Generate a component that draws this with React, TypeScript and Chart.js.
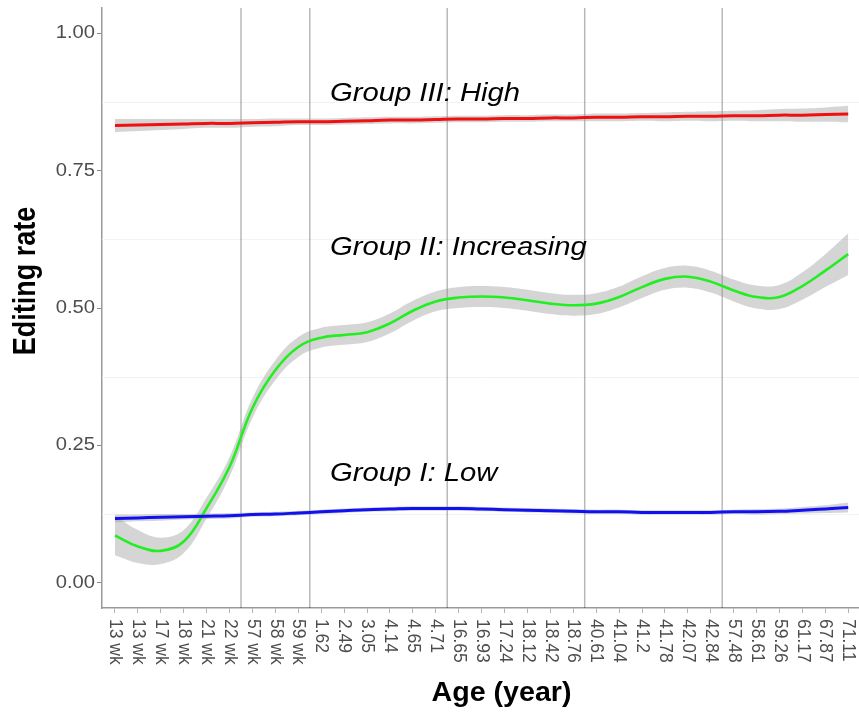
import React, { useEffect, useRef } from "react";
import { Chart, registerables } from "chart.js";

Chart.register(...registerables);

// ---- data ----
const ageLabels = [
  "13 wk", "13 wk", "17 wk", "18 wk", "21 wk", "22 wk", "57 wk", "58 wk", "59 wk",
  "1.62", "2.49", "3.05", "4.14", "4.65", "4.71",
  "16.65", "16.93", "17.24", "18.12", "18.42", "18.76",
  "40.61", "41.04", "41.2", "41.78", "42.07", "42.84",
  "57.48", "58.61", "59.26", "61.17", "67.87", "71.11",
];

const groupHigh = [
  0.832, 0.833, 0.834, 0.835, 0.836, 0.836, 0.837, 0.838, 0.839, 0.839, 0.840,
  0.841, 0.842, 0.842, 0.843, 0.844, 0.844, 0.845, 0.845, 0.846, 0.846, 0.847,
  0.847, 0.848, 0.848, 0.849, 0.849, 0.850, 0.850, 0.851, 0.851, 0.852, 0.853,
];
const groupHighSe = [
  0.012, 0.011, 0.010, 0.009, 0.008, 0.008, 0.007, 0.007, 0.006, 0.006, 0.006,
  0.006, 0.006, 0.006, 0.006, 0.006, 0.006, 0.006, 0.006, 0.006, 0.006, 0.007,
  0.007, 0.007, 0.008, 0.008, 0.009, 0.009, 0.010, 0.011, 0.012, 0.013, 0.015,
];

const groupIncreasing = [
  0.086, 0.066, 0.058, 0.075, 0.136, 0.211, 0.318, 0.387, 0.429, 0.446, 0.451,
  0.456, 0.472, 0.495, 0.512, 0.519, 0.521, 0.519, 0.514, 0.508, 0.505, 0.508,
  0.52, 0.538, 0.553, 0.557, 0.548, 0.532, 0.52, 0.52, 0.54, 0.568, 0.598,
];
const groupIncreasingSe = [
  0.036, 0.030, 0.024, 0.021, 0.019, 0.018, 0.018, 0.018, 0.018, 0.018, 0.018,
  0.018, 0.018, 0.018, 0.018, 0.019, 0.019, 0.019, 0.019, 0.019, 0.019, 0.019,
  0.019, 0.020, 0.020, 0.020, 0.020, 0.020, 0.021, 0.022, 0.025, 0.030, 0.038,
];

const groupLow = [
  0.117, 0.118, 0.119, 0.120, 0.121, 0.122, 0.124, 0.125, 0.127, 0.129, 0.131,
  0.133, 0.134, 0.135, 0.135, 0.135, 0.134, 0.133, 0.132, 0.131, 0.130, 0.129,
  0.129, 0.128, 0.128, 0.128, 0.128, 0.129, 0.129, 0.130, 0.132, 0.134, 0.137,
];
const groupLowSe = [
  0.007, 0.006, 0.006, 0.005, 0.005, 0.005, 0.004, 0.004, 0.004, 0.004, 0.004,
  0.004, 0.004, 0.004, 0.004, 0.004, 0.004, 0.004, 0.004, 0.004, 0.004, 0.004,
  0.004, 0.004, 0.004, 0.004, 0.004, 0.004, 0.005, 0.005, 0.006, 0.007, 0.009,
];

const yTickValues = [0, 0.25, 0.5, 0.75, 1];
const yTickLabels = ["0.00", "0.25", "0.50", "0.75", "1.00"];
const yMinorValues = [0.125, 0.375, 0.625, 0.875];
const ageBoundaries = [5.5, 8.5, 14.5, 20.5, 26.5];

const groupNames = ["Group III: High", "Group II: Increasing", "Group I: Low"];
const groupNameX = [9.38, 9.38, 9.38];
const groupNameY = [0.877, 0.596, 0.186];

const xTitle = "Age (year)";
const yTitle = "Editing rate";

const FONT = '"Liberation Sans", Arial, Helvetica, sans-serif';

function pts(vals: number[]) {
  return vals.map((v, i) => ({ x: i, y: v }));
}
function band(vals: number[], se: number[], sign: number) {
  return vals.map((v, i) => ({ x: i, y: v + sign * se[i] }));
}

const decorPlugin = {
  id: "decor",
  beforeDatasetsDraw(chart: any) {
    const { ctx, chartArea: a, scales } = chart;
    const x = scales.x, y = scales.y;
    ctx.save();
    ctx.strokeStyle = "#f3f3f3";
    ctx.lineWidth = 1;
    yMinorValues.forEach((v) => {
      const py = Math.round(y.getPixelForValue(v)) + 0.5;
      ctx.beginPath();
      ctx.moveTo(a.left, py);
      ctx.lineTo(a.right, py);
      ctx.stroke();
    });
    ctx.strokeStyle = "rgba(0,0,0,0.28)";
    ctx.lineWidth = 1.5;
    ageBoundaries.forEach((b) => {
      const px = x.getPixelForValue(b);
      ctx.beginPath();
      ctx.moveTo(px, a.top);
      ctx.lineTo(px, a.bottom);
      ctx.stroke();
    });
    ctx.restore();
  },
  afterDraw(chart: any) {
    const { ctx, chartArea: a, scales } = chart;
    const x = scales.x, y = scales.y;
    ctx.save();
    // x tick labels, rotated clockwise
    ctx.fillStyle = "#4d4d4d";
    ctx.font = `17.5px ${FONT}`;
    ageLabels.forEach((l, i) => {
      const px = x.getPixelForValue(i);
      ctx.save();
      ctx.translate(px, a.bottom + 11);
      ctx.rotate(Math.PI / 2);
      ctx.textAlign = "left";
      ctx.textBaseline = "middle";
      ctx.fillText(l, 0, 0);
      ctx.restore();
    });
    // y tick labels
    ctx.font = `18px ${FONT}`;
    yTickValues.forEach((v, i) => {
      const py = y.getPixelForValue(v);
      ctx.save();
      ctx.translate(a.left - 7, py);
      ctx.scale(1.12, 1);
      ctx.textAlign = "right";
      ctx.textBaseline = "middle";
      ctx.fillText(yTickLabels[i], 0, 0);
      ctx.restore();
    });
    // axis titles
    ctx.fillStyle = "#000";
    ctx.font = `bold 27px ${FONT}`;
    ctx.save();
    ctx.translate((a.left + a.right) / 2 + 21, 701);
    ctx.scale(1.06, 1);
    ctx.textAlign = "center";
    ctx.textBaseline = "alphabetic";
    ctx.fillText(xTitle, 0, 0);
    ctx.restore();
    ctx.save();
    ctx.translate(35, 281);
    ctx.rotate(-Math.PI / 2);
    ctx.scale(1, 1.15);
    ctx.textAlign = "center";
    ctx.textBaseline = "alphabetic";
    ctx.fillText(yTitle, 0, 0);
    ctx.restore();
    // group annotations
    ctx.font = `italic 25px ${FONT}`;
    groupNames.forEach((t, i) => {
      ctx.save();
      ctx.translate(x.getPixelForValue(groupNameX[i]), y.getPixelForValue(groupNameY[i]));
      ctx.scale(1.17, 1);
      ctx.textAlign = "left";
      ctx.textBaseline = "alphabetic";
      ctx.fillText(t, 0, 0);
      ctx.restore();
    });
    ctx.restore();
  },
};

const RIBBON = "rgba(150,150,150,0.4)";

export default function App() {
  const ref = useRef<HTMLCanvasElement | null>(null);

  useEffect(() => {
    if (!ref.current) return;
    const lineDs = (label: string, data: number[], color: string, width: number, order: number) => ({
      label,
      data: pts(data),
      borderColor: color,
      borderWidth: width,
      pointRadius: 0,
      fill: false,
      tension: 0.4,
      order,
    });
    const bandDs = (data: any[], fill: any, order: number) => ({
      data,
      borderWidth: 0,
      borderColor: "rgba(0,0,0,0)",
      backgroundColor: RIBBON,
      pointRadius: 0,
      fill,
      tension: 0.4,
      order,
    });

    const chart = new Chart(ref.current, {
      type: "line",
      data: {
        datasets: [
          lineDs("Group I: Low", groupLow, "#1010f0", 3, 0),
          lineDs("Group II: Increasing", groupIncreasing, "#22ee22", 2.6, 1),
          lineDs("Group III: High", groupHigh, "#f01010", 3, 2),
          bandDs(band(groupHigh, groupHighSe, 1), false, 10),
          bandDs(band(groupHigh, groupHighSe, -1), "-1", 11),
          bandDs(band(groupIncreasing, groupIncreasingSe, 1), false, 12),
          bandDs(band(groupIncreasing, groupIncreasingSe, -1), "-1", 13),
          bandDs(band(groupLow, groupLowSe, 1), false, 14),
          bandDs(band(groupLow, groupLowSe, -1), "-1", 15),
        ] as any,
      },
      options: {
        animation: false,
        responsive: false,
        layout: { padding: { top: 8, right: 0, left: 0, bottom: 0 } },
        plugins: { legend: { display: false }, tooltip: { enabled: false } },
        scales: {
          x: {
            type: "linear",
            min: -0.567,
            max: 32.47,
            afterBuildTicks: (s: any) => {
              s.ticks = ageLabels.map((_, i) => ({ value: i }));
            },
            afterFit: (s: any) => {
              s.height = 105;
            },
            ticks: { display: false },
            grid: { drawOnChartArea: false, drawTicks: true, tickLength: 5, color: "#b3b3b3", lineWidth: 1 },
            border: { display: true, color: "#9a9a9a", width: 1.5 },
          },
          y: {
            type: "linear",
            min: -0.046,
            max: 1.046,
            afterBuildTicks: (s: any) => {
              s.ticks = yTickValues.map((v) => ({ value: v }));
            },
            afterFit: (s: any) => {
              s.width = 102;
            },
            ticks: { display: false },
            grid: { drawOnChartArea: false, drawTicks: true, tickLength: 5, color: "#8a8a8a", lineWidth: 1 },
            border: { display: true, color: "#9a9a9a", width: 1.5 },
          },
        },
      } as any,
      plugins: [decorPlugin as any],
    });
    return () => chart.destroy();
  }, []);

  return (
    <canvas
      ref={ref}
      width={859}
      height={713}
      style={{ position: "absolute", left: 0, top: 0, width: 859, height: 713, display: "block" }}
    />
  );
}
